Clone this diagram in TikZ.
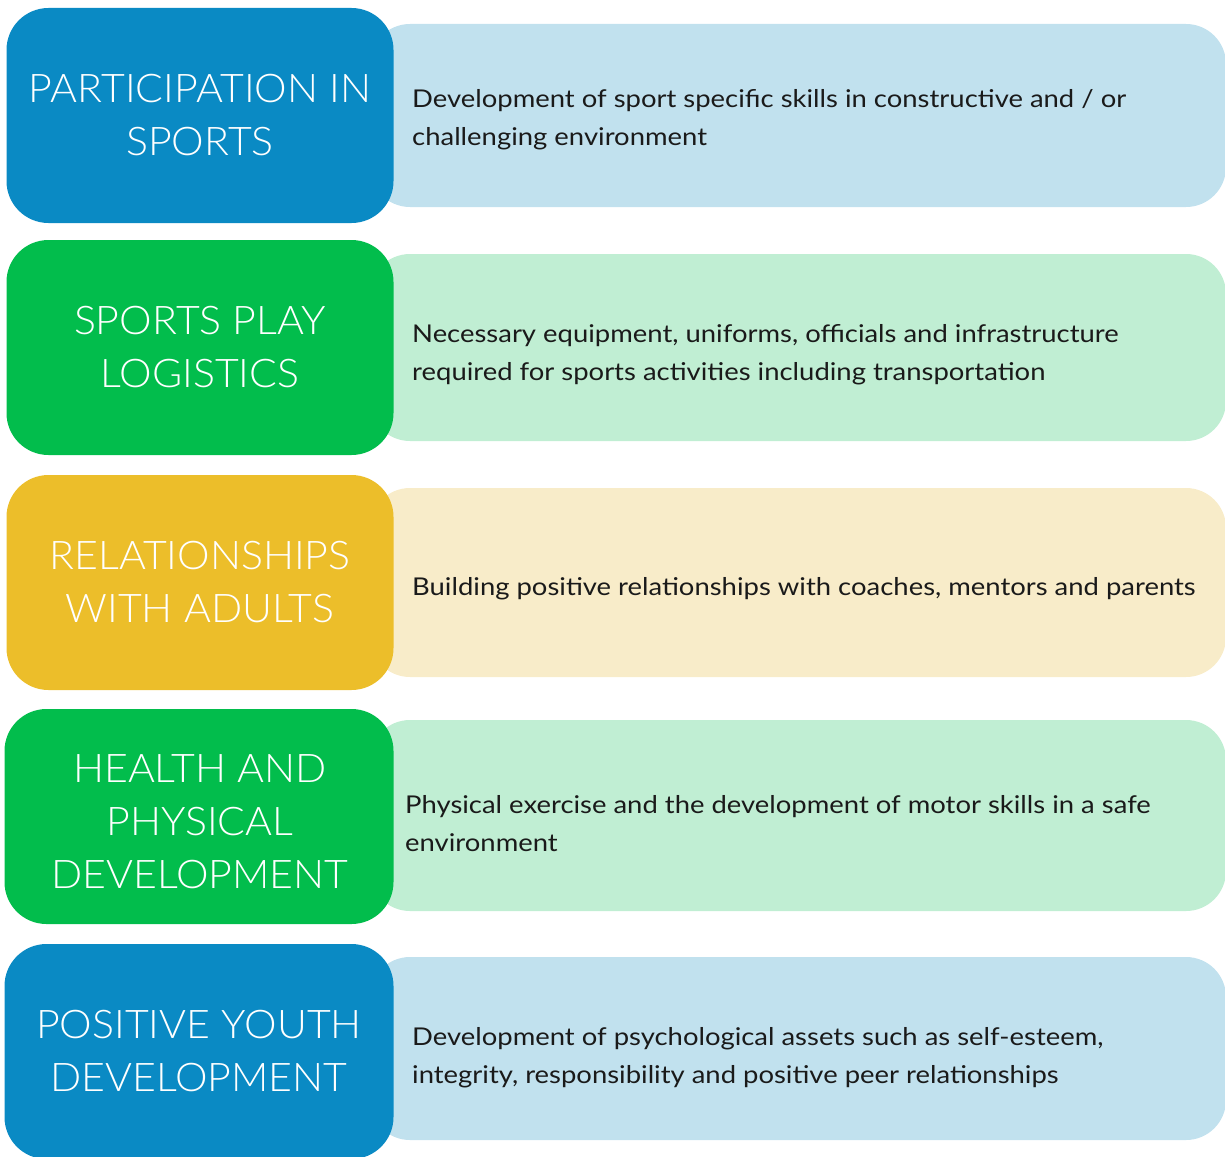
\documentclass[tikz,border=0pt]{standalone}
\usepackage{fontspec}
\setmainfont{Lato}[FakeStretch=1.12]
\newfontfamily\lightfont{Lato Light}[FakeStretch=1.04]
\definecolor{cblue}{HTML}{0A8AC4}
\definecolor{cgreen}{HTML}{02BD4C}
\definecolor{cyellow}{HTML}{ECBE2A}
\definecolor{lblue}{HTML}{C1E1EE}
\definecolor{lgreen}{HTML}{C0EED3}
\definecolor{lyellow}{HTML}{F8ECC9}
\definecolor{txt}{HTML}{1A1A1A}
\tikzset{
  titlebox/.style={rounded corners=42pt, minimum width=387pt, minimum height=215pt,
    inner sep=0pt, align=center, text=white,
    font=\lightfont\fontsize{39.5}{53}\selectfont},
  descbox/.style={rounded corners=40pt, inner sep=0pt},
  desctext/.style={anchor=west, align=left, text=txt, inner sep=0pt,
    font=\fontsize{24.5}{38}\selectfont}
}
\begin{document}
\begin{tikzpicture}[x=1pt,y=-1pt]
\useasboundingbox (0,0) rectangle (1225,1156);
% right description panels
\path[fill=lblue, descbox] (370,24) rectangle (1226,207);
\path[fill=lgreen, descbox] (370,254) rectangle (1226,441);
\path[fill=lyellow, descbox] (370,488) rectangle (1226,677);
\path[fill=lgreen, descbox] (370,720) rectangle (1226,911);
\path[fill=lblue, descbox] (370,957) rectangle (1226,1140);
% title boxes
\node[titlebox, fill=cblue] (t1) at (200,115.5) {PARTICIPATION IN\\SPORTS};
\node[titlebox, fill=cgreen] (t2) at (200,347.5) {SPORTS PLAY\\LOGISTICS};
\node[titlebox, fill=cyellow] (t3) at (200,582.5) {RELATIONSHIPS\\WITH ADULTS};
\node[titlebox, fill=cgreen, minimum width=389pt] (t4) at (199,816.5) {};
\node[align=center, text=white, inner sep=0pt, font=\lightfont\fontsize{39.5}{53}\selectfont] (t4text) at (200,821.5) {HEALTH AND\\PHYSICAL\\DEVELOPMENT};
\node[titlebox, fill=cblue, minimum width=389pt] (t5) at (199,1051.5) {POSITIVE YOUTH\\DEVELOPMENT};
% descriptions
\node[desctext] (d1) at (412,120) {Development of sport specific skills in constructive and / or\\challenging environment};
\node[desctext] (d2) at (412,355) {Necessary equipment, uniforms, officials and infrastructure\\required for sports activities including transportation};
\node[desctext] (d3) at (412,589) {Building positive relationships with coaches, mentors and parents};
\node[desctext] (d4) at (405,824) {Physical exercise and the development of motor skills in a safe\\environment};
\node[desctext] (d5) at (412,1058) {Development of psychological assets such as self-esteem,\\integrity, responsibility and positive peer relationships};
\end{tikzpicture}
\end{document}
